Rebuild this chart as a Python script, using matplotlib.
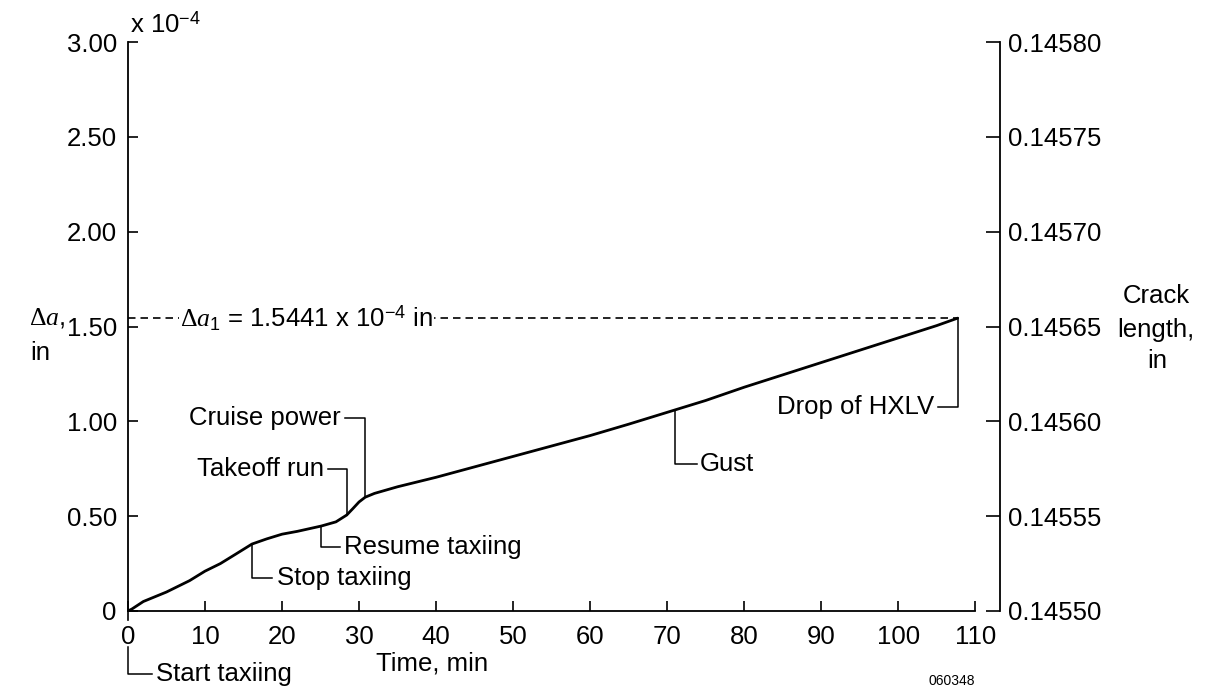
import matplotlib
matplotlib.use("Agg")
import matplotlib.pyplot as plt
from matplotlib.ticker import FixedLocator, FormatStrFormatter

plt.rcParams['font.family'] = ['Liberation Sans', 'DejaVu Sans']
plt.rcParams['mathtext.fontset'] = 'custom'
plt.rcParams['mathtext.rm'] = 'Liberation Serif'
plt.rcParams['mathtext.it'] = 'Liberation Serif:italic'
plt.rcParams['mathtext.sf'] = 'Liberation Sans'

# crack growth record, delta-a in units of 1e-4 in
time_min = [0, 0.5, 2, 5, 8, 10, 12, 14, 16.1, 18, 20, 22, 25.1, 27, 28.4,
            29.2, 30, 30.8, 32, 35, 40, 45, 50, 55, 60, 65, 71, 75, 80, 85,
            90, 95, 100, 105, 107.7]
delta_a = [0, 0.01, 0.05, 0.10, 0.16, 0.21, 0.25, 0.30, 0.353, 0.38, 0.405,
           0.42, 0.448, 0.47, 0.506, 0.54, 0.575, 0.60, 0.62, 0.655, 0.705,
           0.76, 0.815, 0.87, 0.925, 0.985, 1.06, 1.11, 1.18, 1.245, 1.31,
           1.375, 1.44, 1.505, 1.5441]

final_da = 1.5441
x_ticks = list(range(0, 111, 10))
y_ticks = [0, 0.5, 1.0, 1.5, 2.0, 2.5, 3.0]
y_ticklabels = ['0', '0.50', '1.00', '1.50', '2.00', '2.50', '3.00']
crack0 = 0.14550
crack_ticks = [0.14550, 0.14555, 0.14560, 0.14565, 0.14570, 0.14575, 0.14580]

# events: label, (time, delta-a on curve)
events = {
    'Start taxiing': (0.0, 0.0),
    'Stop taxiing': (16.1, 0.353),
    'Resume taxiing': (25.1, 0.448),
    'Takeoff run': (28.4, 0.506),
    'Cruise power': (30.8, 0.60),
    'Gust': (71.0, 1.06),
    'Drop of HXLV': (107.7, 1.5441),
}

FS = 18.5

fig = plt.figure(figsize=(12.07, 6.90), dpi=100)
ax = fig.add_axes([0.1060, 0.1145, 0.7225, 0.8246])
ax.set_xlim(0, 113.2)
ax.set_ylim(0, 3.0)

ax.plot(time_min, delta_a, color='black', lw=2.0, solid_capstyle='round')

# dashed reference at the final growth value
ax.plot([0, events['Drop of HXLV'][0]], [final_da, final_da], color='black',
        lw=1.2, linestyle=(0, (4.5, 3)))
ax.text(6.75, final_da,
        r'$\Delta a_\mathsf{1}$ = 1.5441 x 10$^{\mathsf{-4}}$ in',
        fontsize=FS, ha='left', va='center',
        bbox=dict(facecolor='white', edgecolor='none', pad=1))

# spines and ticks
ax.spines['top'].set_visible(False)
ax.spines['right'].set_visible(False)
ax.spines['bottom'].set_bounds(0, 110)
for sp in ax.spines.values():
    sp.set_linewidth(1.3)

ax.xaxis.set_major_locator(FixedLocator(x_ticks))
ax.set_xticklabels([str(v) for v in x_ticks])
ax.yaxis.set_major_locator(FixedLocator(y_ticks))
ax.set_yticklabels(y_ticklabels)
ax.tick_params(axis='x', direction='in', length=7, width=1.2, pad=10, labelsize=FS)
ax.tick_params(axis='y', direction='in', length=7, width=1.2, pad=8, labelsize=FS)

ax2 = ax.twinx()
ax2.set_ylim(crack0, crack0 + 3.0e-4)
for side in ('top', 'bottom', 'left'):
    ax2.spines[side].set_visible(False)
ax2.spines['right'].set_linewidth(1.3)
ax2.yaxis.set_major_locator(FixedLocator(crack_ticks))
ax2.yaxis.set_major_formatter(FormatStrFormatter('%.5f'))
ax2.tick_params(axis='y', direction='in', length=10, width=1.2, pad=6, labelsize=FS)

# outward tick at time zero
ax.plot([0, 0], [0, -0.045], color='black', lw=1.2, clip_on=False)

lw_lead = 1.1
# elbow leaders from the curve to each event label
def leader(xs, ys):
    ax.plot(xs, ys, color='black', lw=lw_lead, clip_on=False)

t, v = events['Start taxiing']
leader([t, t, 3.1], [-0.19, -0.33, -0.33])
ax.text(3.7, -0.33, 'Start taxiing', fontsize=FS, ha='left', va='center')

t, v = events['Stop taxiing']
leader([t, t, 18.7], [v, 0.174, 0.174])
ax.text(19.4, 0.174, 'Stop taxiing', fontsize=FS, ha='left', va='center')

t, v = events['Resume taxiing']
leader([t, t, 27.5], [v, 0.337, 0.337])
ax.text(28.1, 0.337, 'Resume taxiing', fontsize=FS, ha='left', va='center')

t, v = events['Takeoff run']
leader([26.0, t, t], [0.749, 0.749, v])
ax.text(25.4, 0.749, 'Takeoff run', fontsize=FS, ha='right', va='center')

t, v = events['Cruise power']
leader([28.2, t, t], [1.017, 1.017, v])
ax.text(27.6, 1.017, 'Cruise power', fontsize=FS, ha='right', va='center')

t, v = events['Gust']
leader([t, t, 73.9], [v, 0.775, 0.775])
ax.text(74.2, 0.775, 'Gust', fontsize=FS, ha='left', va='center')

t, v = events['Drop of HXLV']
leader([105.1, t, t], [1.075, 1.075, v])
ax.text(104.6, 1.075, 'Drop of HXLV', fontsize=FS, ha='right', va='center')

# axis titles
ax.text(0.25, 3.09, r'x 10$^{\mathsf{-4}}$', fontsize=FS, ha='left', va='center')
ax.text(39.5, -0.275, 'Time, min', fontsize=FS, ha='center', va='center')
ax.text(107.0, -0.37, '060348', fontsize=10, ha='center', va='center')

fig.text(47 / 1207, 1 - 318 / 690, r'$\Delta a$,', fontsize=FS, ha='center', va='center')
fig.text(40 / 1207, 1 - 353 / 690, 'in', fontsize=FS, ha='center', va='center')
fig.text(1156 / 1207, 1 - 296 / 690, 'Crack', fontsize=FS, ha='center', va='center')
fig.text(1156 / 1207, 1 - 330 / 690, 'length,', fontsize=FS, ha='center', va='center')
fig.text(1157 / 1207, 1 - 361 / 690, 'in', fontsize=FS, ha='center', va='center')

fig.savefig('out.png', dpi=100, facecolor='white')
